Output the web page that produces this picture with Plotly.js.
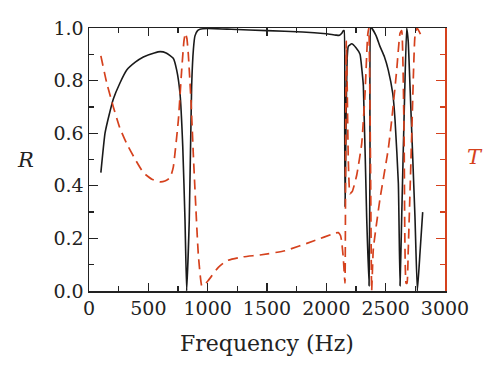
<!DOCTYPE html>
<html>
<head>
<meta charset="utf-8">
<script src="https://cdn.plot.ly/plotly-3.0.1.min.js"></script>
<style>html,body{margin:0;padding:0;background:#fff;}#chart{width:500px;height:379px;}</style>
</head>
<body>
<div id="chart"></div>
<script>
// Reflection R (solid black)
var freqR = [100,135,170,205,260,318,390,458,550,600,650,710,739,767,790,809,823,845,865,880,893,915,935,1000,1200,1500,1800,2000,2080,2110,2130,2143,2150,2155,2158,2165,2175,2185,2214,2250,2284,2300,2312,2340,2360,2368,2374,2382,2420,2452,2490,2522,2560,2579,2607,2621,2635,2660,2677,2690,2705,2747,2767,2790,2812];
var R     = [0.45,0.60,0.67,0.73,0.79,0.84,0.87,0.89,0.905,0.91,0.905,0.885,0.84,0.75,0.55,0.27,0.0,0.27,0.78,0.92,0.97,0.99,0.995,0.998,0.995,0.99,0.985,0.978,0.973,0.972,0.98,0.99,0.99,0.6,0.32,0.6,0.88,0.93,0.94,0.925,0.90,0.84,0.78,0.28,0.02,0.5,1.0,1.0,0.97,0.93,0.89,0.84,0.75,0.65,0.41,0.02,0.28,0.75,1.0,0.95,0.78,0.28,0.0,0.15,0.30];
// Transmission T (dashed red)
var freqT = [100,150,205,260,318,390,458,530,598,640,683,710,753,781,800,812,825,837,860,879,900,921,950,965,1005,1090,1160,1300,1441,1652,1891,2073,2101,2120,2129,2143,2157,2163,2168,2175,2185,2199,2220,2256,2298,2326,2348,2358,2372,2382,2396,2452,2522,2551,2593,2621,2635,2655,2672,2680,2690,2720,2747,2765,2790,2803];
var T     = [0.894,0.79,0.70,0.62,0.56,0.50,0.45,0.425,0.415,0.418,0.43,0.47,0.65,0.84,0.95,0.98,0.96,0.90,0.72,0.52,0.32,0.14,0.02,0.02,0.04,0.09,0.115,0.13,0.137,0.153,0.19,0.22,0.222,0.21,0.19,0.125,0.03,0.6,0.95,0.8,0.5,0.37,0.38,0.44,0.56,0.75,0.97,1.0,0.5,0.0,0.16,0.35,0.54,0.65,0.84,0.98,0.99,0.6,0.03,0.03,0.15,0.6,0.97,1.0,0.98,0.967];

var red = '#d5411d';
var fontFam = 'DejaVu Serif, serif';

var traces = [
  {x: freqR, y: R, type: 'scatter', mode: 'lines', name: 'R',
   line: {color: '#1a1a1a', width: 1.6, shape: 'spline', smoothing: 0.4}, xaxis: 'x', yaxis: 'y'},
  {x: freqT, y: T, type: 'scatter', mode: 'lines', name: 'T',
   line: {color: red, width: 1.7, dash: '10px,6px', shape: 'spline', smoothing: 0.4}, xaxis: 'x', yaxis: 'y2'}
];

var layout = {
  width: 500, height: 379,
  margin: {l: 89, r: 55, t: 28, b: 88},
  paper_bgcolor: '#fff', plot_bgcolor: '#fff',
  showlegend: false,
  font: {family: fontFam, size: 19, color: '#222'},
  xaxis: {
    range: [0, 3000], dtick: 500, tick0: 0,
    ticks: 'inside', ticklen: 8, tickwidth: 1.3, tickcolor: '#222',
    minor: {ticks: 'inside', ticklen: 5, dtick: 250, tickcolor: '#222', tickwidth: 1.3},
    showline: true, linecolor: '#222', linewidth: 1.5, mirror: 'ticks',
    showgrid: false, zeroline: false,
    tickfont: {family: fontFam, size: 19, color: '#222'}
  },
  yaxis: {
    range: [0, 1], dtick: 0.2, tick0: 0, tickformat: '.1f',
    ticks: 'inside', ticklen: 9, tickwidth: 1.3, tickcolor: '#222',
    minor: {ticks: 'inside', ticklen: 5, dtick: 0.1, tickcolor: '#222', tickwidth: 1.3},
    showline: true, linecolor: '#222', linewidth: 1.5, mirror: false,
    showgrid: false, zeroline: false,
    tickfont: {family: fontFam, size: 19, color: '#222'}
  },
  yaxis2: {
    range: [0, 1], dtick: 0.2, tick0: 0, overlaying: 'y', side: 'right',
    showticklabels: false,
    ticks: 'inside', ticklen: 9, tickwidth: 1.3, tickcolor: red,
    minor: {ticks: 'inside', ticklen: 5, dtick: 0.1, tickcolor: red, tickwidth: 1.3},
    showline: true, linecolor: red, linewidth: 1.5,
    showgrid: false, zeroline: false
  },
  annotations: [
    {text: 'Frequency (Hz)', xref: 'paper', yref: 'paper', x: 0.5, y: -0.2, yanchor: 'middle', xanchor: 'center', showarrow: false,
     font: {family: fontFam, size: 22, color: '#222'}},
    {text: '<i>R</i>', xref: 'paper', yref: 'paper', x: -0.178, y: 0.5, xanchor: 'center', yanchor: 'middle', showarrow: false,
     font: {family: fontFam, size: 21, color: '#222'}},
    {text: '<i>T</i>', xref: 'paper', yref: 'paper', x: 1.084, y: 0.51, xanchor: 'center', yanchor: 'middle', showarrow: false,
     font: {family: fontFam, size: 21, color: red}}
  ]
};

Plotly.newPlot('chart', traces, layout, {displayModeBar: false, staticPlot: true});
</script>
</body>
</html>
